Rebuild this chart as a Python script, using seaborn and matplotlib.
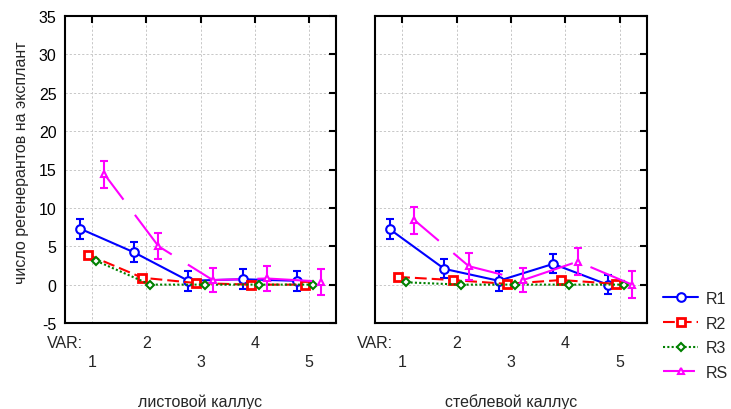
import matplotlib
matplotlib.use("Agg")
import matplotlib.pyplot as plt
import numpy as np
import pandas as pd
import seaborn as sns

# ---- data -------------------------------------------------------------
categories = [1, 2, 3, 4, 5]
tick_labels = ["1", "2", "3", "4", "5"]
series = ["R1", "R2", "R3", "RS"]
panel_titles = ["листовой каллус", "стеблевой каллус"]
y_label = "число регенерантов на эксплант"
var_label = "VAR:"

leaf_r1 = [7.3, 4.2, 0.5, 0.7, 0.5]
leaf_r2 = [3.9, 0.9, 0.2, 0.0, 0.0]
leaf_r3 = [3.1, 0.0, 0.0, 0.0, 0.0]
leaf_rs = [14.4, 5.0, 0.6, 0.8, 0.4]
leaf_r1_err = [1.3, 1.3, 1.3, 1.3, 1.3]
leaf_rs_err = [1.75, 1.7, 1.6, 1.65, 1.7]

stem_r1 = [7.2, 2.05, 0.5, 2.7, 0.0]
stem_r2 = [1.0, 0.6, 0.1, 0.6, 0.1]
stem_r3 = [0.3, 0.0, 0.0, 0.0, 0.0]
stem_rs = [8.4, 2.4, 0.6, 3.0, 0.0]
stem_r1_err = [1.3, 1.25, 1.3, 1.25, 1.2]
stem_rs_err = [1.75, 1.75, 1.6, 1.75, 1.75]

panels = [
    {"R1": leaf_r1, "R2": leaf_r2, "R3": leaf_r3, "RS": leaf_rs},
    {"R1": stem_r1, "R2": stem_r2, "R3": stem_r3, "RS": stem_rs},
]
panel_errors = [
    {"R1": leaf_r1_err, "RS": leaf_rs_err},
    {"R1": stem_r1_err, "RS": stem_rs_err},
]

# ---- style ------------------------------------------------------------
sns.set_theme(style="white")
plt.rcParams["font.family"] = ["Liberation Sans", "DejaVu Sans"]
FS = 11.5
plt.rcParams["font.size"] = FS
plt.rcParams["lines.scale_dashes"] = False

styles = {
    "R1": dict(color="#0000ff", marker="o", markersize=6.2, mew=1.5, linestyle="-"),
    "R2": dict(color="#ff0000", marker="s", markersize=5.8, mew=2.0, linestyle=(0, (8.5, 3.6))),
    "R3": dict(color="#008000", marker="D", markersize=4.5, mew=1.5, linestyle=(0, (1.5, 1.6))),
    "RS": dict(color="#ff00ff", marker="^", markersize=5.0, mew=1.5, linestyle=(16.5, (39.5, 13.7))),
}
offsets = dict(zip(series, [-0.225, -0.075, 0.075, 0.225]))

W, H = 731, 410
fig = plt.figure(figsize=(W / 100, H / 100), dpi=100)
axes = [
    fig.add_axes([65 / W, 1 - 324 / H, 271 / W, 307 / H]),
    fig.add_axes([375 / W, 1 - 324 / H, 272 / W, 307 / H]),
]

handles = {}
for i, ax in enumerate(axes):
    values = panels[i]
    errors = panel_errors[i]
    for k, name in enumerate(series):
        st = styles[name]
        xpos = np.array(categories, dtype=float) + offsets[name]
        df = pd.DataFrame({"x": xpos, "y": values[name]})
        if name in errors:
            ax.errorbar(xpos, values[name], yerr=errors[name], fmt="none",
                        ecolor=st["color"], elinewidth=1.5, capsize=3,
                        capthick=1.5, zorder=3 + k)
        sns.lineplot(data=df, x="x", y="y", ax=ax, errorbar=None, legend=False,
                     sort=False, color=st["color"], linestyle=st["linestyle"],
                     linewidth=1.5, marker=st["marker"],
                     markersize=st["markersize"], markerfacecolor="white",
                     markeredgecolor=st["color"], markeredgewidth=st["mew"],
                     zorder=3.5 + k, label=name)
        handles[name] = ax.lines[-1]

    ax.set_xlim(0.5, 5.5)
    ax.set_ylim(-5, 35)
    ax.set_xticks(categories)
    ax.set_xticklabels([])
    ax.set_yticks(np.arange(-5, 36, 5))
    if i == 0:
        ax.set_yticklabels([str(v) for v in range(-5, 36, 5)])
    else:
        ax.set_yticklabels([])
    ax.set_xlabel("")
    ax.set_ylabel("")
    ax.set_axisbelow(True)
    ax.grid(True, color="#c8c8c8", linestyle=(0, (1.6, 1.4)), linewidth=0.7)
    ax.tick_params(direction="in", length=5, width=1.5, top=True, right=True,
                   labelsize=FS, pad=6, colors="black")
    for sp in ax.spines.values():
        sp.set_visible(True)
        sp.set_color("black")
        sp.set_linewidth(1.5)

    # staggered category labels under the axis
    tr = ax.get_xaxis_transform()
    ax.text(0.5, -0.062, var_label, transform=tr, ha="center", va="center", fontsize=FS)
    for c, lab in zip(categories, tick_labels):
        yrow = -0.062 if c % 2 == 0 else -0.127
        ax.text(c, yrow, lab, transform=tr, ha="center", va="center", fontsize=FS)
    ax.text(0.5, -0.254, panel_titles[i], transform=ax.transAxes,
            ha="center", va="center", fontsize=FS)

fig.text(22 / W, 1 - 163 / H, y_label, rotation=90, ha="center", va="center", fontsize=FS)

fig.legend([handles[s] for s in series], series, loc="upper left",
           bbox_to_anchor=(663 / W, 1 - 292 / H), frameon=False, fontsize=FS,
           handlelength=2.2, handletextpad=0.45, labelspacing=0.6,
           borderaxespad=0, borderpad=0)

fig.savefig("out.png", dpi=100)
